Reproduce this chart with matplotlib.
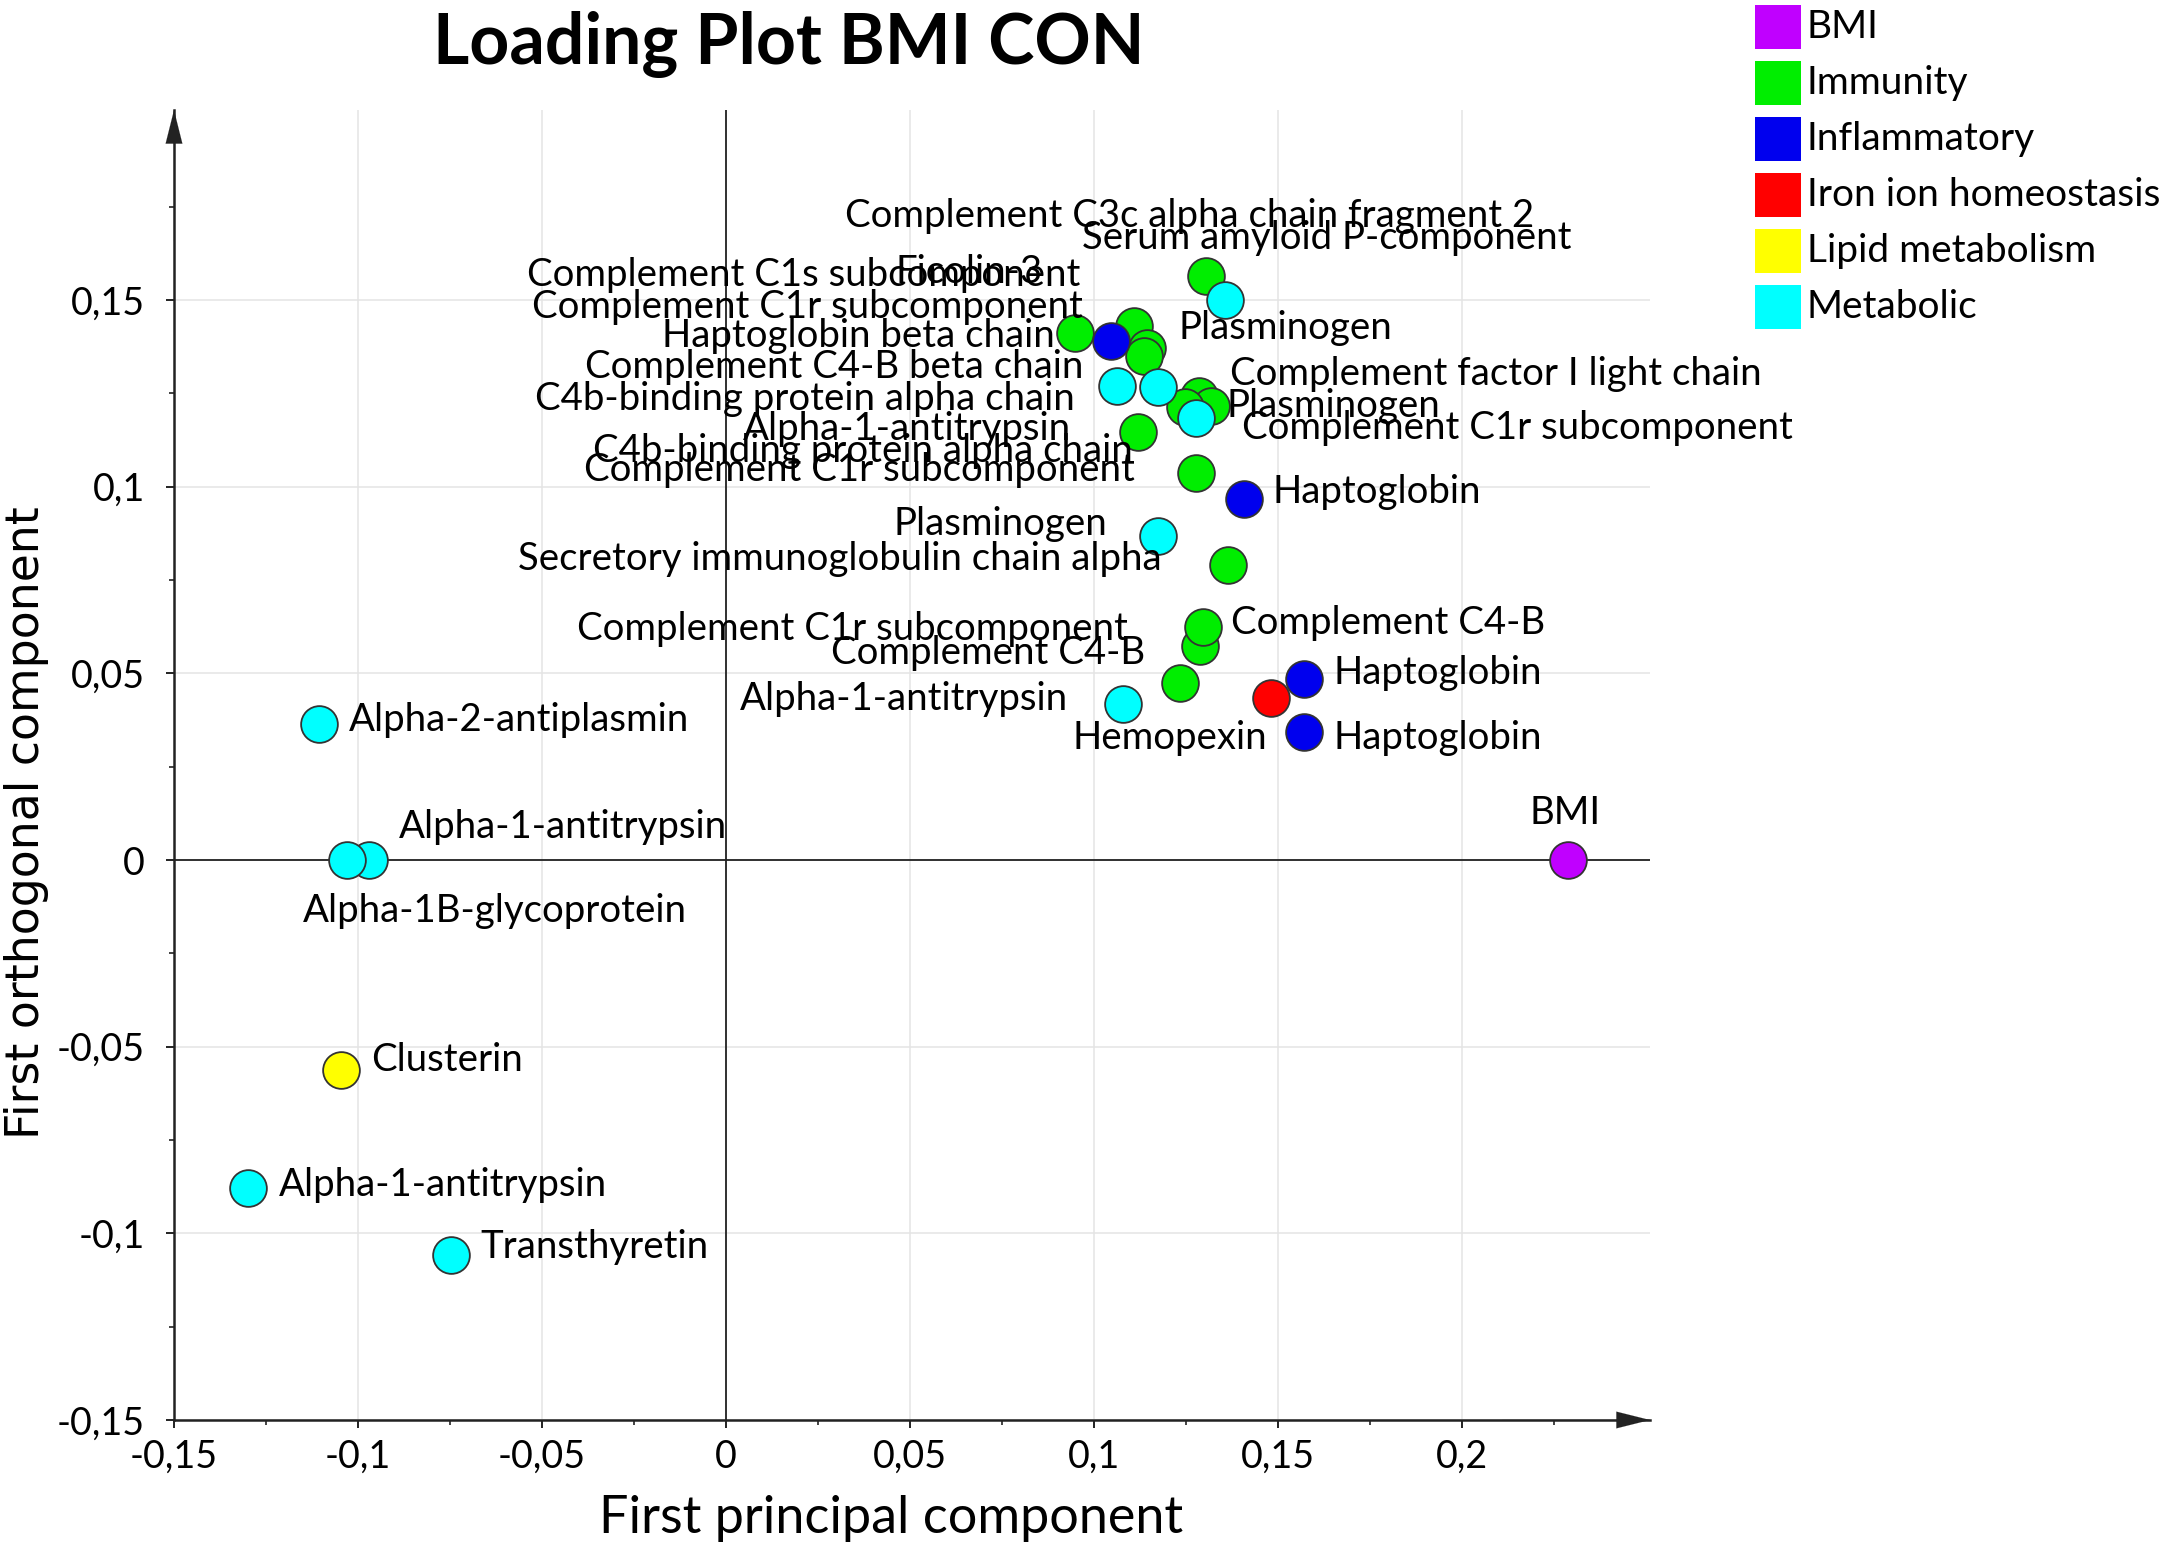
import matplotlib
matplotlib.use('Agg')
import matplotlib.pyplot as plt
from matplotlib.patches import Rectangle
from matplotlib.textpath import TextPath
from matplotlib.font_manager import FontProperties

DPI = 100
FONT = 'Lato'
W, H = 2160, 1552

# groups and colours (legend order)
groups = ['BMI', 'Immunity', 'Inflammatory', 'Iron ion homeostasis',
          'Lipid metabolism', 'Metabolic']
group_colors = ['#C000FF', '#00EE00', '#0000EE', '#FF0000', '#FFFF00', '#00FFFF']

# loadings, one pair of arrays per group
bmi_x = [0.2288]
bmi_y = [0.0]
immunity_x = [0.1304, 0.0948, 0.1109, 0.1143, 0.1136, 0.1286, 0.1317, 0.1248,
              0.1120, 0.1277, 0.1363, 0.1288, 0.1295, 0.1233]
immunity_y = [0.1564, 0.1413, 0.1431, 0.1372, 0.1350, 0.1244, 0.1217, 0.1213,
              0.1146, 0.1037, 0.0790, 0.0572, 0.0625, 0.0474]
inflammatory_x = [0.1046, 0.1408, 0.1572, 0.1572]
inflammatory_y = [0.1390, 0.0968, 0.0485, 0.0343]
iron_x = [0.1481]
iron_y = [0.0434]
lipid_x = [-0.1046]
lipid_y = [-0.0563]
metabolic_x = [0.1356, 0.1062, 0.1175, 0.1278, 0.1175, 0.1079,
               -0.1106, -0.0971, -0.1031, -0.1298, -0.0746]
metabolic_y = [0.1499, 0.1270, 0.1268, 0.1184, 0.0867, 0.0418,
               0.0364, 0.0, 0.0, -0.0879, -0.1059]

# point labels: text, anchor position (data units), horizontal alignment
label_text = [
    'Complement C3c alpha chain fragment 2', 'Serum amyloid P-component',
    'Complement C1s subcomponent', 'Ficolin-3', 'Complement C1r subcomponent',
    'Haptoglobin beta chain', 'Plasminogen', 'Complement C4-B beta chain',
    'Complement factor I light chain', 'C4b-binding protein alpha chain',
    'Plasminogen', 'Alpha-1-antitrypsin', 'Complement C1r subcomponent',
    'C4b-binding protein alpha chain', 'Complement C1r subcomponent',
    'Haptoglobin', 'Plasminogen', 'Secretory immunoglobulin chain alpha',
    'Complement C1r subcomponent', 'Complement C4-B', 'Complement C4-B',
    'Haptoglobin', 'Alpha-1-antitrypsin', 'Hemopexin', 'Haptoglobin', 'BMI',
    'Alpha-2-antiplasmin', 'Alpha-1-antitrypsin', 'Alpha-1B-glycoprotein',
    'Clusterin', 'Alpha-1-antitrypsin', 'Transthyretin']
label_x = [0.0323, 0.0967, 0.0964, 0.0461, 0.0971, 0.0893, 0.1230, 0.0971,
           0.1369, 0.0949, 0.1361, 0.0938, 0.1402, 0.1106, 0.1110, 0.1485,
           0.1035, 0.1185, 0.1091, 0.1372, 0.1140, 0.1650, 0.0930, 0.1470,
           0.1650, 0.2280, -0.1024, -0.0889, -0.1151, -0.0964, -0.1215, -0.0667]
label_y = [0.1724, 0.1665, 0.1566, 0.1574, 0.1482, 0.1404, 0.1426, 0.1320,
           0.1301, 0.1235, 0.1217, 0.1154, 0.1158, 0.1096, 0.1044, 0.0985,
           0.0901, 0.0805, 0.0618, 0.0636, 0.0555, 0.0500, 0.0430, 0.0327,
           0.0327, 0.0125, 0.0375, 0.0088, -0.0136, -0.0537, -0.0871, -0.1037]
label_ha = ['left', 'left', 'right', 'left', 'right', 'right', 'left', 'right',
            'left', 'right', 'left', 'right', 'left', 'right', 'right', 'left',
            'right', 'right', 'right', 'left', 'right', 'left', 'right', 'right',
            'left', 'center', 'left', 'left', 'left', 'left', 'left', 'left']

x_ticks = [-0.15, -0.1, -0.05, 0, 0.05, 0.1, 0.15, 0.2]
y_ticks = [-0.15, -0.1, -0.05, 0, 0.05, 0.1, 0.15]


def fit_size(text, width_px, family=FONT, weight='normal'):
    """Font size (pt) that makes text about width_px wide."""
    tp = TextPath((0, 0), text, size=1, prop=FontProperties(family=family, weight=weight))
    return width_px / tp.get_extents().width * 72 / DPI


def comma(v):
    return f"{v:g}".replace('.', ',')


plt.rcParams['font.family'] = FONT
label_fs = fit_size('Complement C1r subcomponent', 547)
tick_fs = fit_size('-0,15', 83)
title_fs = fit_size('Loading Plot BMI CON', 700, weight='bold')
xlab_fs = fit_size('First principal component', 579)
ylab_fs = fit_size('First orthogonal component', 627, family='DejaVu Sans')
legend_fs = fit_size('Iron ion homeostasis', 348)

fig = plt.figure(figsize=(W / DPI, H / DPI), dpi=DPI)
ax = fig.add_axes([174 / W, 1 - 1420 / H, (1650 - 174) / W, (1420 - 110) / H])

ax.set_xlim(-0.15, 0.2511)
ax.set_ylim(-0.15, 0.2009)

ax.set_xticks(x_ticks, [comma(v) for v in x_ticks])
ax.set_yticks(y_ticks, [comma(v) for v in y_ticks])
ax.set_xticks([-0.125, -0.075, -0.025, 0.025, 0.075, 0.125, 0.175, 0.225], minor=True)
ax.set_yticks([-0.125, -0.075, -0.025, 0.025, 0.075, 0.125, 0.175], minor=True)
ax.tick_params(which='major', length=6, width=1.4, color='#222222',
               labelsize=tick_fs)
ax.tick_params(axis='x', which='major', pad=7.5)
ax.tick_params(axis='y', which='major', pad=15)
ax.tick_params(which='minor', length=3.5, width=1.2, color='#222222')

ax.grid(True, which='major', color='#e4e4e4', lw=1.1, zorder=0)
ax.set_axisbelow(True)
for side in ['top', 'right']:
    ax.spines[side].set_visible(False)
for side in ['left', 'bottom']:
    ax.spines[side].set_color('#222222')
    ax.spines[side].set_linewidth(1.8)

# zero lines
ax.axhline(0, color='#222222', lw=1.3, zorder=1)
ax.axvline(0, color='#222222', lw=1.3, zorder=1)

# arrow heads on the axes
arrow = dict(arrowstyle='-|>,head_length=24,head_width=6', color='#222222',
             lw=0.1, shrinkA=0, shrinkB=0, mutation_scale=1)
ax.annotate('', xy=(0, 1), xytext=(0, 0.9), xycoords='axes fraction',
            arrowprops=arrow)
ax.annotate('', xy=(1, 0), xytext=(0.9, 0), xycoords='axes fraction',
            arrowprops=arrow)

series = {
    'Immunity': (immunity_x, immunity_y),
    'Iron ion homeostasis': (iron_x, iron_y),
    'Inflammatory': (inflammatory_x, inflammatory_y),
    'Lipid metabolism': (lipid_x, lipid_y),
    'Metabolic': (metabolic_x, metabolic_y),
    'BMI': (bmi_x, bmi_y),
}
for name, (xs, ys) in series.items():
    c = group_colors[groups.index(name)]
    ax.scatter(xs, ys, s=700, color=c, edgecolor='#333333', linewidth=1.3,
               zorder=3, clip_on=False)

for t, x, y, ha in zip(label_text, label_x, label_y, label_ha):
    ax.text(x, y, t, ha=ha, va='center', fontsize=label_fs, zorder=5)

fig.text(789 / W, 1 - 45 / H, 'Loading Plot BMI CON', ha='center', va='center',
         fontsize=title_fs, weight='bold')
fig.text(891 / W, 1 - 1519 / H, 'First principal component', ha='center',
         va='center', fontsize=xlab_fs)
fig.text(27 / W, 1 - 823 / H, 'First orthogonal component', ha='center',
         va='center', rotation=90, fontsize=ylab_fs, family='DejaVu Sans')

# legend as coloured squares
for i, (g, c) in enumerate(zip(groups, group_colors)):
    top = 5 + i * 56
    fig.add_artist(Rectangle((1755 / W, 1 - (top + 44) / H), 46 / W, 44 / H,
                             transform=fig.transFigure, color=c, lw=0))
    fig.text(1807 / W, 1 - (top + 22) / H, g, ha='left', va='center',
             fontsize=legend_fs)

fig.savefig('out.png', dpi=DPI)
